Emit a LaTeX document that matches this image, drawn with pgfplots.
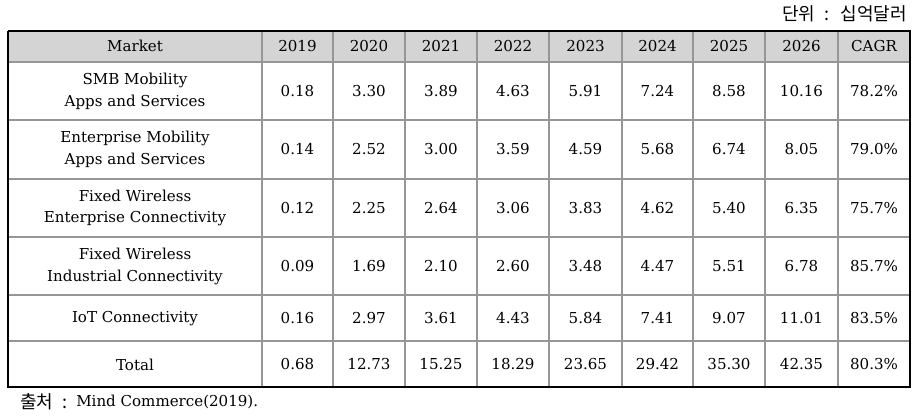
\documentclass[border=0pt]{standalone}
\usepackage{fontspec}
\usepackage{pgfplots}
\pgfplotsset{compat=1.18}
\setmainfont{DejaVu Serif}
\newfontfamily\cjk{Noto Sans CJK KR}
\definecolor{hdr}{RGB}{212,212,212}
\definecolor{gridc}{RGB}{150,150,150}
\begin{document}
\begin{tikzpicture}
\begin{axis}[
 scale only axis, width=689.25pt, height=312pt,
 xmin=0, xmax=919, ymin=0, ymax=416, y dir=reverse,
 hide axis, clip=false,
 every node near coord/.append style={anchor=center, font=\fontsize{11.3}{14}\selectfont, text=black, inner sep=0pt},
 cell/.style={draw=none, mark=none, nodes near coords, point meta=explicit symbolic},
 hline/.style={gridc, line width=0.8pt, mark=none},
]
\addplot[draw=none, mark=none] coordinates {(0,0) (919,416)};
% header background
\addplot[fill=hdr, draw=none, mark=none] coordinates {(8,31) (910,31) (910,62) (8,62) (8,31)};
% horizontal rules
\addplot[hline] coordinates {(8,62) (910,62)};
\addplot[hline] coordinates {(8,120) (910,120)};
\addplot[hline] coordinates {(8,179) (910,179)};
\addplot[hline] coordinates {(8,237) (910,237)};
\addplot[hline] coordinates {(8,295) (910,295)};
\addplot[hline] coordinates {(8,341) (910,341)};
% vertical rules
\addplot[hline] coordinates {(262,31) (262,387)};
\addplot[hline] coordinates {(333,31) (333,387)};
\addplot[hline] coordinates {(405,31) (405,387)};
\addplot[hline] coordinates {(477,31) (477,387)};
\addplot[hline] coordinates {(549,31) (549,387)};
\addplot[hline] coordinates {(622,31) (622,387)};
\addplot[hline] coordinates {(693,31) (693,387)};
\addplot[hline] coordinates {(765,31) (765,387)};
\addplot[hline] coordinates {(838,31) (838,387)};
% outer border
\addplot[black, line width=1.7pt, mark=none] coordinates {(8,31) (910,31) (910,387) (8,387) (8,31)};
% header
\addplot[cell] coordinates {(135,46) [Market] (297.5,46) [2019] (369,46) [2020] (441,46) [2021] (513,46) [2022] (585.5,46) [2023] (657.5,46) [2024] (729,46) [2025] (801.5,46) [2026] (874,46) [CAGR]};
% row 1
\addplot[cell] coordinates {(135,80) [SMB Mobility] (135,102) [Apps and Services] (297.5,91) [0.18] (369,91) [3.30] (441,91) [3.89] (513,91) [4.63] (585.5,91) [5.91] (657.5,91) [7.24] (729,91) [8.58] (801.5,91) [10.16] (874,91) [78.2\%]};
% row 2
\addplot[cell] coordinates {(135,138) [Enterprise Mobility] (135,160) [Apps and Services] (297.5,149.5) [0.14] (369,149.5) [2.52] (441,149.5) [3.00] (513,149.5) [3.59] (585.5,149.5) [4.59] (657.5,149.5) [5.68] (729,149.5) [6.74] (801.5,149.5) [8.05] (874,149.5) [79.0\%]};
% row 3
\addplot[cell] coordinates {(135,196) [Fixed Wireless] (135,219) [Enterprise Connectivity] (297.5,208) [0.12] (369,208) [2.25] (441,208) [2.64] (513,208) [3.06] (585.5,208) [3.83] (657.5,208) [4.62] (729,208) [5.40] (801.5,208) [6.35] (874,208) [75.7\%]};
% row 4
\addplot[cell] coordinates {(135,254) [Fixed Wireless] (135,277) [Industrial Connectivity] (297.5,266) [0.09] (369,266) [1.69] (441,266) [2.10] (513,266) [2.60] (585.5,266) [3.48] (657.5,266) [4.47] (729,266) [5.51] (801.5,266) [6.78] (874,266) [85.7\%]};
% row 5
\addplot[cell] coordinates {(135,318.5) [IoT Connectivity] (297.5,318.5) [0.16] (369,318.5) [2.97] (441,318.5) [3.61] (513,318.5) [4.43] (585.5,318.5) [5.84] (657.5,318.5) [7.41] (729,318.5) [9.07] (801.5,318.5) [11.01] (874,318.5) [83.5\%]};
% total
\addplot[cell] coordinates {(135,364.5) [Total] (297.5,364.5) [0.68] (369,364.5) [12.73] (441,364.5) [15.25] (513,364.5) [18.29] (585.5,364.5) [23.65] (657.5,364.5) [29.42] (729,364.5) [35.30] (801.5,364.5) [42.35] (874,364.5) [80.3\%]};
% unit and source
\addplot[cell, every node near coord/.append style={anchor=east, font=\cjk\fontsize{13.5}{16}\selectfont}] coordinates {(907,14) [단위 {\hspace{0.3em}}:{\hspace{0.3em}} 십억달러]};
\addplot[cell, every node near coord/.append style={anchor=west, font=\cjk\fontsize{13.5}{16}\selectfont}] coordinates {(20,402) [출처 {\hspace{0.3em}}:]};
\addplot[cell, every node near coord/.append style={anchor=west}] coordinates {(76,402) [Mind Commerce(2019).]};
\end{axis}
\end{tikzpicture}
\end{document}
